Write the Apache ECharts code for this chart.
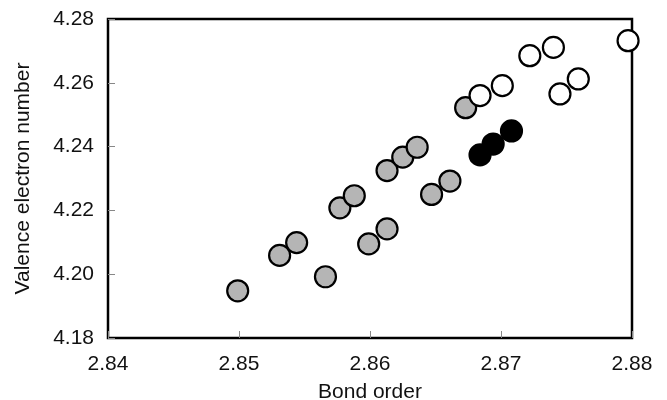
<!DOCTYPE html>
<html>
<head>
<meta charset="utf-8">
<script src="https://cdn.jsdelivr.net/npm/echarts@6/dist/echarts.min.js"></script>
<style>
  html, body { margin: 0; padding: 0; background: #fff; }
  #chart { width: 667px; height: 400px; }
</style>
</head>
<body>
<div id="chart"></div>
<script>
// bond order / valence electron number
const grayX = [2.8499, 2.8531, 2.8544, 2.8566, 2.8577, 2.8588, 2.8599, 2.8613, 2.8613, 2.8625, 2.8636, 2.8647, 2.8661, 2.8673]
const grayY = [4.1948, 4.2059, 4.2099, 4.1992, 4.2208, 4.2246, 4.2095, 4.2142, 4.2325, 4.2367, 4.2398, 4.2250, 4.2292, 4.2522]
const blackX = [2.8684, 2.8694, 2.8708]
const blackY = [4.2374, 4.2408, 4.2449]
const openX = [2.8684, 2.8701, 2.8722, 2.8740, 2.8745, 2.8759, 2.8797]
const openY = [4.2560, 4.2591, 4.2685, 4.2711, 4.2565, 4.2612, 4.2732]
const xTicks = [2.84, 2.85, 2.86, 2.87, 2.88]
const yTicks = [4.18, 4.20, 4.22, 4.24, 4.26, 4.28]

const font = 'Liberation Sans, Arial, sans-serif'

function pairs(xs, ys) {
  return xs.map((x, i) => [x, ys[i]])
}

function dotSeries(data, fill) {
  return {
    type: 'scatter',
    data: data,
    symbol: 'circle',
    symbolSize: 21,
    clip: false,
    itemStyle: {
      color: fill,
      opacity: 1,
      borderColor: '#000',
      borderWidth: 2.2
    }
  }
}

const chart = echarts.init(document.getElementById('chart'))

chart.setOption({
  animation: false,
  grid: {
    left: 108,
    right: 35,
    top: 19,
    bottom: 62,
    outerBoundsMode: 'none',
    show: true,
    borderColor: '#000',
    borderWidth: 2.5
  },
  xAxis: {
    type: 'value',
    min: xTicks[0],
    max: xTicks[xTicks.length - 1],
    interval: 0.01,
    name: 'Bond order',
    nameLocation: 'middle',
    nameGap: 44,
    nameTextStyle: { color: '#111', fontSize: 21, fontFamily: font },
    axisLine: { show: false },
    axisTick: { inside: true, length: 7, lineStyle: { color: '#888' } },
    splitLine: { show: false },
    axisLabel: {
      color: '#111',
      fontSize: 21,
      fontFamily: font,
      margin: 16,
      formatter: v => v.toFixed(2)
    }
  },
  yAxis: {
    type: 'value',
    min: yTicks[0],
    max: yTicks[yTicks.length - 1],
    interval: 0.02,
    name: 'Valence electron number',
    nameLocation: 'middle',
    nameGap: 74,
    nameTextStyle: { color: '#111', fontSize: 21, fontFamily: font },
    axisLine: { show: false },
    axisTick: { inside: true, length: 7, lineStyle: { color: '#888' } },
    splitLine: { show: false },
    axisLabel: {
      color: '#111',
      fontSize: 21,
      fontFamily: font,
      margin: 14,
      formatter: v => v.toFixed(2)
    }
  },
  series: [
    dotSeries(pairs(grayX, grayY), '#b5b5b5'),
    dotSeries(pairs(blackX, blackY), '#000'),
    dotSeries(pairs(openX, openY), '#fff')
  ]
})
</script>
</body>
</html>
